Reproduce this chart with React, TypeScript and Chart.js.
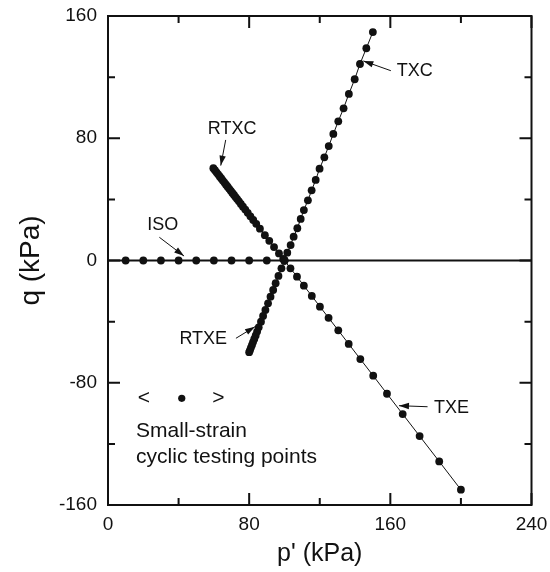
import React, { useEffect, useRef } from "react";
import { Chart, registerables } from "chart.js";

Chart.register(...registerables);

const FONT = '"Liberation Sans", Arial, Helvetica, sans-serif';
const INK = "#111111";

// Axis ranges and ticks
const X_MIN = 0;
const X_MAX = 240;
const Y_MIN = -160;
const Y_MAX = 160;
const X_TICKS = [0, 80, 160, 240];
const Y_TICKS = [-160, -80, 0, 80, 160];
const X_MINOR = [40, 120, 200];
const Y_MINOR = [-120, -40, 40, 120];

// Stress paths (p', q) in kPa
const ISO_P = [10, 20, 30, 40, 50, 60, 70, 80, 90, 100];
const ISO_Q = [0, 0, 0, 0, 0, 0, 0, 0, 0, 0];

const TXC_P = [100, 101.6, 103.5, 105.2, 107.3, 109.2, 111.0, 113.3, 115.4, 117.7, 119.9, 122.6, 125.1, 127.7, 130.5, 133.5, 136.5, 139.8, 142.8, 146.4, 150.1];
const TXC_Q = [0, 5.1, 10.1, 15.6, 21.1, 27.2, 33.0, 39.4, 45.9, 52.7, 60.1, 67.5, 74.9, 82.8, 91.1, 99.6, 109.0, 118.6, 128.6, 138.9, 149.5];

const TXE_P = [100, 103.4, 107.1, 111.0, 115.5, 120.1, 125.0, 130.5, 136.4, 143.0, 150.3, 158.1, 167.0, 176.6, 187.7, 200.0];
const TXE_Q = [0, -5.1, -10.6, -16.5, -23.2, -30.2, -37.5, -45.7, -54.6, -64.5, -75.4, -87.2, -100.5, -114.9, -131.5, -150.0];

const RTXC_P = [59.7, 60.6, 61.5, 62.4, 63.3, 64.2, 65.1, 66.0, 66.9, 67.8, 68.7, 69.6, 70.5, 71.4, 72.3, 73.2, 74.2, 75.3, 76.5, 77.8, 79.2, 80.7, 82.3, 84.0, 86.1, 88.9, 91.4, 94.1, 96.9, 99.3];
const RTXC_Q = [60.4, 59.1, 57.7, 56.4, 55.0, 53.7, 52.3, 51.0, 49.6, 48.3, 46.9, 45.6, 44.2, 42.9, 41.5, 40.2, 38.7, 37.0, 35.2, 33.3, 31.2, 28.9, 26.5, 24.0, 20.8, 16.6, 12.9, 8.8, 4.6, 1.0];

const RTXE_P = [100, 98.3, 96.6, 95.0, 93.6, 92.1, 90.7, 89.2, 87.9, 86.7, 85.4, 84.5, 83.7, 82.9, 82.2, 81.6, 81.0, 80.5, 80.0];
const RTXE_Q = [0, -5.1, -10.1, -14.9, -19.3, -23.7, -28.0, -32.4, -36.3, -40.0, -43.7, -46.5, -49.0, -51.3, -53.4, -55.3, -57.0, -58.6, -60.0];

// Horizontal q = 0 reference line
const ZERO_P = [0, 240];
const ZERO_Q = [0, 0];

// Path labels with arrows (data coordinates)
const LABEL_TEXT = ["RTXC", "ISO", "TXC", "TXE", "RTXE"];
const LABEL_P = [70.3, 31.0, 173.9, 194.7, 54.0];
const LABEL_Q = [86.0, 23.2, 124.2, -96.3, -51.6];
const ARROW_FROM_P = [66.7, 29.1, 160.3, 181.1, 72.5];
const ARROW_FROM_Q = [78.9, 15.2, 124.2, -95.7, -50.9];
const ARROW_TO_P = [63.9, 43.1, 144.7, 164.9, 83.3];
const ARROW_TO_Q = [62.1, 2.9, 130.6, -95.0, -43.3];

// Key text (data coordinates)
const KEY_SYMBOLS = ["<", ">"];
const KEY_SYMBOL_P = [20.4, 62.5];
const KEY_SYMBOL_Q = [-90.2, -90.2];
const KEY_DOT_P = [41.8];
const KEY_DOT_Q = [-90.2];
const KEY_LINES = ["Small-strain", "cyclic testing points"];
const KEY_LINE_P = [15.9, 15.9];
const KEY_LINE_Q = [-111.4, -128.4];

function pts(px: number[], qy: number[]) {
  return px.map((x, i) => ({ x, y: qy[i] }));
}

function drawArrow(ctx: CanvasRenderingContext2D, x1: number, y1: number, x2: number, y2: number) {
  ctx.beginPath();
  ctx.moveTo(x1, y1);
  ctx.lineTo(x2, y2);
  ctx.stroke();
  const a = Math.atan2(y2 - y1, x2 - x1);
  const L = 10;
  const W = 3.2;
  const c = Math.cos(a);
  const s = Math.sin(a);
  ctx.beginPath();
  ctx.moveTo(x2, y2);
  ctx.lineTo(x2 - L * c + W * s, y2 - L * s - W * c);
  ctx.lineTo(x2 - L * c - W * s, y2 - L * s + W * c);
  ctx.closePath();
  ctx.fill();
}

const framePlugin = {
  id: "frameTicks",
  afterDraw(chart: any) {
    const { ctx, chartArea } = chart;
    const xs = chart.scales.x;
    const ys = chart.scales.y;
    const { left, right, top, bottom } = chartArea;
    ctx.save();
    ctx.strokeStyle = INK;
    ctx.fillStyle = INK;
    ctx.lineWidth = 2;
    ctx.strokeRect(left, top, right - left, bottom - top);
    const MAJ = 12;
    const MIN = 7;
    const xt = (v: number, len: number) => {
      const x = xs.getPixelForValue(v);
      ctx.beginPath();
      ctx.moveTo(x, bottom);
      ctx.lineTo(x, bottom - len);
      ctx.moveTo(x, top);
      ctx.lineTo(x, top + len);
      ctx.stroke();
    };
    const yt = (v: number, len: number) => {
      const y = ys.getPixelForValue(v);
      ctx.beginPath();
      ctx.moveTo(left, y);
      ctx.lineTo(left + len, y);
      ctx.moveTo(right, y);
      ctx.lineTo(right - len, y);
      ctx.stroke();
    };
    X_TICKS.forEach((v) => xt(v, MAJ));
    X_MINOR.forEach((v) => xt(v, MIN));
    Y_TICKS.forEach((v) => yt(v, MAJ));
    Y_MINOR.forEach((v) => yt(v, MIN));

    // labels + arrows
    ctx.lineWidth = 1;
    ctx.font = `18px ${FONT}`;
    ctx.textAlign = "center";
    ctx.textBaseline = "middle";
    LABEL_TEXT.forEach((t, i) => {
      ctx.fillText(t, xs.getPixelForValue(LABEL_P[i]), ys.getPixelForValue(LABEL_Q[i]));
      drawArrow(
        ctx,
        xs.getPixelForValue(ARROW_FROM_P[i]),
        ys.getPixelForValue(ARROW_FROM_Q[i]),
        xs.getPixelForValue(ARROW_TO_P[i]),
        ys.getPixelForValue(ARROW_TO_Q[i])
      );
    });

    // key
    ctx.font = `21px ${FONT}`;
    KEY_SYMBOLS.forEach((t, i) => {
      ctx.fillText(t, xs.getPixelForValue(KEY_SYMBOL_P[i]), ys.getPixelForValue(KEY_SYMBOL_Q[i]));
    });
    KEY_DOT_P.forEach((p, i) => {
      ctx.beginPath();
      ctx.arc(xs.getPixelForValue(p), ys.getPixelForValue(KEY_DOT_Q[i]), 3.6, 0, Math.PI * 2);
      ctx.fill();
    });
    ctx.textAlign = "left";
    KEY_LINES.forEach((t, i) => {
      ctx.fillText(t, xs.getPixelForValue(KEY_LINE_P[i]), ys.getPixelForValue(KEY_LINE_Q[i]));
    });
    ctx.restore();
  },
};

export default function App() {
  const ref = useRef<HTMLCanvasElement | null>(null);

  useEffect(() => {
    if (!ref.current) return;
    const pointStyle = {
      pointRadius: 3.9,
      pointHoverRadius: 3.9,
      pointBackgroundColor: INK,
      pointBorderWidth: 0,
      borderColor: INK,
      borderWidth: 1,
    };
    const chart = new Chart(ref.current, {
      type: "scatter",
      data: {
        datasets: [
          { label: "ISO", data: pts(ISO_P, ISO_Q), showLine: false, ...pointStyle },
          { label: "TXC", data: pts(TXC_P, TXC_Q), showLine: true, ...pointStyle },
          { label: "TXE", data: pts(TXE_P, TXE_Q), showLine: true, ...pointStyle },
          { label: "RTXC", data: pts(RTXC_P, RTXC_Q), showLine: true, ...pointStyle },
          { label: "RTXE", data: pts(RTXE_P, RTXE_Q), showLine: true, ...pointStyle },
          {
            label: "zero",
            data: pts(ZERO_P, ZERO_Q),
            showLine: true,
            pointRadius: 0,
            borderColor: INK,
            borderWidth: 2,
          },
        ],
      },
      options: {
        animation: false,
        responsive: true,
        maintainAspectRatio: false,
        layout: { padding: { top: 16, right: 18.5, left: 0, bottom: 0 } },
        plugins: { legend: { display: false }, tooltip: { enabled: false } },
        scales: {
          x: {
            type: "linear",
            min: X_MIN,
            max: X_MAX,
            afterBuildTicks: (s: any) => {
              s.ticks = X_TICKS.map((v) => ({ value: v }));
            },
            afterFit: (s: any) => {
              s.height = 67;
              s.paddingLeft = 0;
              s.paddingRight = 0;
              s.paddingTop = 0;
              s.paddingBottom = 0;
            },
            ticks: {
              font: { family: FONT, size: 19 },
              color: INK,
              padding: 8,
              maxRotation: 0,
              autoSkip: false,
            },
            grid: { display: false, drawTicks: false },
            border: { display: false },
            title: {
              display: true,
              text: "p' (kPa)",
              font: { family: FONT, size: 25 },
              color: INK,
              padding: { top: 0, bottom: 3 },
            },
          },
          y: {
            type: "linear",
            min: Y_MIN,
            max: Y_MAX,
            afterBuildTicks: (s: any) => {
              s.ticks = Y_TICKS.map((v) => ({ value: v }));
            },
            afterFit: (s: any) => {
              s.width = 108;
              s.paddingLeft = 0;
              s.paddingRight = 0;
              s.paddingTop = 0;
              s.paddingBottom = 0;
            },
            ticks: {
              font: { family: FONT, size: 19 },
              color: INK,
              padding: 11,
              autoSkip: false,
            },
            grid: { display: false, drawTicks: false },
            border: { display: false },
            title: {
              display: true,
              text: "q (kPa)",
              font: { family: FONT, size: 28 },
              color: INK,
              padding: { top: 14, bottom: 0 },
            },
          },
        },
      },
      plugins: [framePlugin],
    });
    return () => chart.destroy();
  }, []);

  return (
    <div style={{ position: "fixed", left: 0, top: 0, width: 550, height: 572, background: "#fff" }}>
      <canvas ref={ref} />
    </div>
  );
}
